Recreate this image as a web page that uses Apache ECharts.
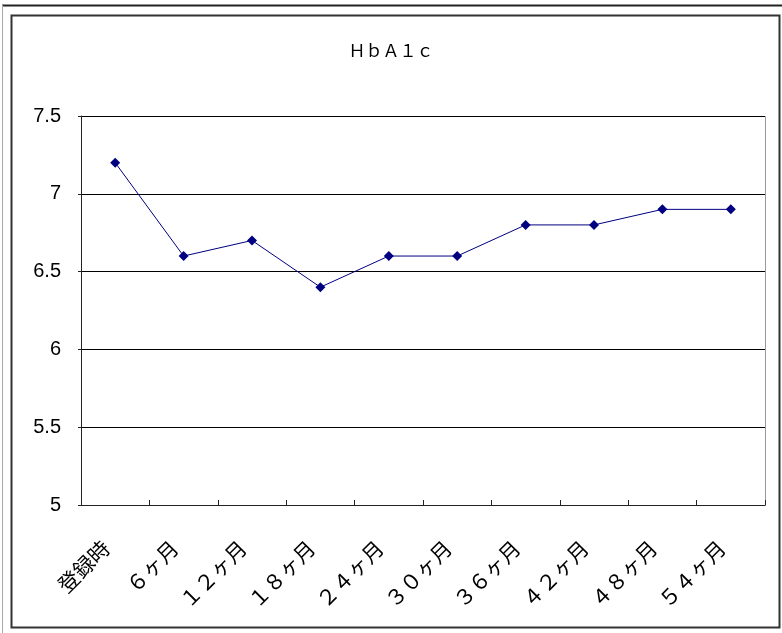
<!DOCTYPE html>
<html>
<head>
<meta charset="utf-8">
<script src="https://cdn.jsdelivr.net/npm/echarts@6/dist/echarts.min.js"></script>
<style>
html,body{margin:0;padding:0;background:#fff;}
#c{width:782px;height:633px;}
</style>
</head>
<body>
<div id="c"></div>
<script>
const titleText = "ＨｂＡ１ｃ";
const categories = ["登録時","６ヶ月","１２ヶ月","１８ヶ月","２４ヶ月","３０ヶ月","３６ヶ月","４２ヶ月","４８ヶ月","５４ヶ月"];
const hba1c = [7.2, 6.6, 6.7, 6.4, 6.6, 6.6, 6.8, 6.8, 6.9, 6.9];
const yMin = 5, yMax = 7.5, yStep = 0.5;

const chart = echarts.init(document.getElementById('c'), null, {renderer:'canvas'});
chart.setOption({
  animation: false,
  backgroundColor: '#fff',
  title: {
    text: titleText, left: 'center', top: 37,
    textStyle: {fontFamily: 'Noto Sans CJK JP', fontSize: 17, fontWeight: 'normal', color: '#000'}
  },
  graphic: [
    {type:'line', shape:{x1:2,y1:5.5,x2:782,y2:5.5}, style:{stroke:'#222', lineWidth:2}},
    {type:'line', shape:{x1:2.5,y1:5,x2:2.5,y2:633}, style:{stroke:'#aaa', lineWidth:1}},
    {type:'rect', shape:{x:11.5,y:15.5,width:768,height:612}, style:{fill:'none', stroke:'#333', lineWidth:2}},
    {type:'rect', shape:{x:81.5,y:116.5,width:684,height:389}, style:{fill:'none', stroke:'#999', lineWidth:1}, z:-1}
  ],
  grid: {left: 81, right: 17, top: 116, bottom: 128, containLabel: false},
  xAxis: {
    type: 'category', data: categories, boundaryGap: true,
    axisLine: {lineStyle: {color: '#222', width: 1}},
    axisTick: {show: true, alignWithLabel: false, length: 5, inside: true, lineStyle: {color: '#222'}},
    axisLabel: {rotate: 45, margin: 30, padding: [0, 13, 0, 0], fontFamily: 'Noto Sans CJK JP', fontSize: 21, color: '#000', interval: 0}
  },
  yAxis: {
    type: 'value', min: yMin, max: yMax, interval: yStep,
    axisLine: {show: true, lineStyle: {color: '#222'}},
    axisTick: {show: true, length: 3, lineStyle: {color: '#222'}},
    axisLabel: {margin: 20, fontFamily: 'Liberation Sans', fontSize: 20, color: '#000'},
    splitLine: {show: true, lineStyle: {color: '#000', width: 1}}
  },
  series: [{
    type: 'line', data: hba1c,
    symbol: 'diamond', symbolSize: 10,
    lineStyle: {color: '#000080', width: 1},
    itemStyle: {color: '#000080'}
  }]
});
</script>
</body>
</html>
